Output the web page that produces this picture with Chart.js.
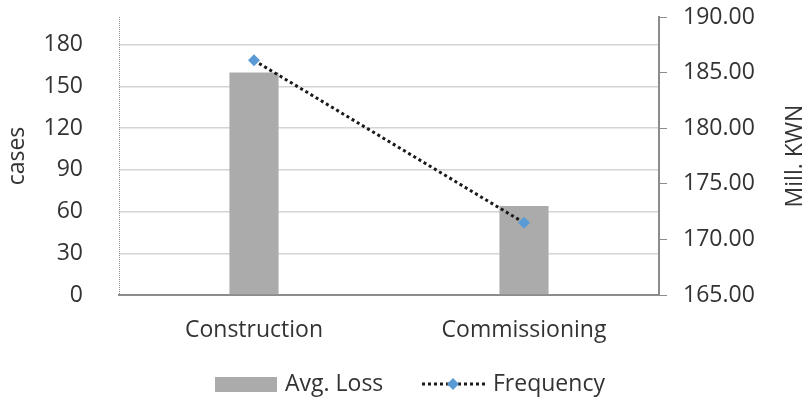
<!DOCTYPE html>
<html>
<head>
<meta charset="utf-8">
<script src="https://cdn.jsdelivr.net/npm/chart.js@4"></script>
<style>
  html, body { margin: 0; padding: 0; background: #fff; }
  #wrap { width: 811px; height: 403px; }
</style>
</head>
<body>
<div id="wrap"><canvas id="c" width="811" height="403"></canvas></div>
<script>
// data
const categories = ['Construction', 'Commissioning'];
const avgLoss = [160, 64];          // left axis (cases)
const frequency = [186.1, 171.5];   // right axis (Mill. KWN)
const leftTicks = [0, 30, 60, 90, 120, 150, 180];
const rightTicks = [165, 170, 175, 180, 185, 190];

const FONT = "'Open Sans', 'Noto Sans', sans-serif";
const FS = 23;
const TEXT = '#333333';
const BAR = '#ababab';
const DOT = '#5b9bd5';
const AXIS = '#8c8c8c';

// dotted left border, right title (bottom to top) and legend
const extras = {
  id: 'extras',
  afterDraw(chart) {
    const ctx = chart.ctx;
    const area = chart.chartArea;
    ctx.save();

    // left axis border, dotted
    ctx.strokeStyle = AXIS;
    ctx.lineWidth = 1;
    ctx.setLineDash([1, 1]);
    ctx.beginPath();
    ctx.moveTo(area.left + 0.5, area.top);
    ctx.lineTo(area.left + 0.5, area.bottom);
    ctx.stroke();
    ctx.setLineDash([]);

    ctx.fillStyle = TEXT;
    ctx.font = FS + 'px ' + FONT;
    ctx.textBaseline = 'middle';

    // right axis title
    ctx.save();
    ctx.translate(795, (area.top + area.bottom) / 2);
    ctx.rotate(-Math.PI / 2);
    ctx.textAlign = 'center';
    ctx.fillText('Mill. KWN', 0, 0);
    ctx.restore();

    // legend
    const ly = 384;
    ctx.fillStyle = BAR;
    ctx.fillRect(215, ly - 7, 62, 15);
    ctx.fillStyle = TEXT;
    ctx.textAlign = 'left';
    ctx.fillText('Avg. Loss', 285, ly);

    ctx.strokeStyle = '#1a1a1a';
    ctx.lineWidth = 3;
    ctx.setLineDash([3, 3]);
    ctx.beginPath();
    ctx.moveTo(422, ly);
    ctx.lineTo(487, ly);
    ctx.stroke();
    ctx.setLineDash([]);
    ctx.fillStyle = DOT;
    ctx.beginPath();
    ctx.moveTo(453, ly - 6);
    ctx.lineTo(459, ly);
    ctx.lineTo(453, ly + 6);
    ctx.lineTo(447, ly);
    ctx.closePath();
    ctx.fill();
    ctx.fillStyle = TEXT;
    ctx.fillText('Frequency', 493, ly);
    ctx.restore();
  }
};

function noPad(s) {
  s.paddingTop = 0;
  s.paddingBottom = 0;
}

new Chart(document.getElementById('c').getContext('2d'), {
  type: 'bar',
  data: {
    labels: categories,
    datasets: [
      {
        type: 'line',
        label: 'Frequency',
        data: frequency,
        yAxisID: 'y1',
        borderColor: '#1a1a1a',
        borderWidth: 3,
        borderDash: [3, 3],
        pointStyle: 'rectRot',
        pointRadius: 6,
        pointBackgroundColor: DOT,
        pointBorderColor: DOT,
        pointBorderWidth: 0,
        fill: false,
        tension: 0,
        order: 1
      },
      {
        type: 'bar',
        label: 'Avg. Loss',
        data: avgLoss,
        yAxisID: 'y',
        backgroundColor: BAR,
        borderWidth: 0,
        barPercentage: 0.182,
        categoryPercentage: 1,
        order: 2
      }
    ]
  },
  options: {
    animation: false,
    responsive: false,
    layout: { padding: { top: 17, left: 0, right: 0, bottom: 0 } },
    plugins: {
      legend: { display: false },
      tooltip: { enabled: false }
    },
    scales: {
      x: {
        grid: { display: false, drawTicks: false },
        border: { color: AXIS, width: 2 },
        ticks: { color: TEXT, font: { family: FONT, size: FS }, padding: 22 },
        afterFit(s) { s.height = 108; s.paddingLeft = 0; s.paddingRight = 0; }
      },
      y: {
        position: 'left',
        min: 0,
        max: 200,
        afterBuildTicks(s) { s.ticks = leftTicks.map(v => ({ value: v })); },
        grid: { color: '#d4d4d4', lineWidth: 1.5, drawTicks: false },
        border: { display: false },
        ticks: { color: TEXT, font: { family: FONT, size: FS }, padding: 36 },
        title: { display: true, text: 'cases', color: TEXT, font: { family: FONT, size: FS }, padding: { top: 4, bottom: 0 } },
        afterFit(s) { s.width = 119; noPad(s); }
      },
      y1: {
        position: 'right',
        min: 165,
        max: 190,
        afterBuildTicks(s) { s.ticks = rightTicks.map(v => ({ value: v })); },
        grid: { drawOnChartArea: false, color: AXIS, tickLength: 8 },
        border: { color: AXIS, width: 2 },
        ticks: { color: TEXT, font: { family: FONT, size: FS }, padding: 16, callback: v => Number(v).toFixed(2) },
        afterFit(s) { s.width = 152; noPad(s); }
      }
    }
  },
  plugins: [extras]
});
</script>
</body>
</html>
